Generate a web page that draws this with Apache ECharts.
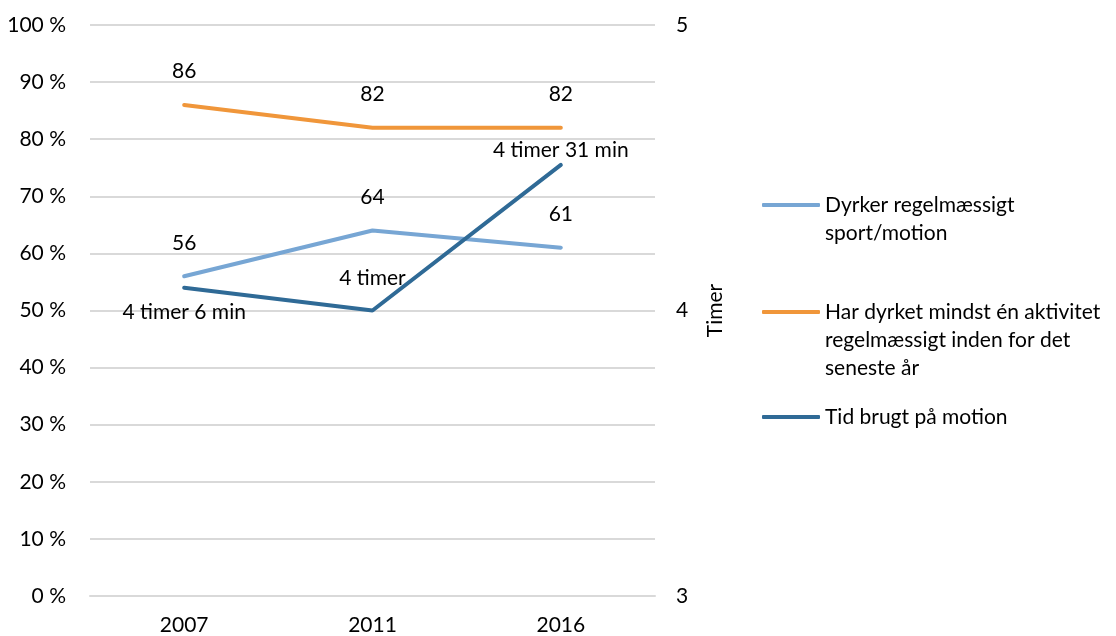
<!DOCTYPE html>
<html><head><meta charset="utf-8">
<script src="https://cdn.jsdelivr.net/npm/echarts@6/dist/echarts.min.js"></script>
<style>html,body{margin:0;padding:0;background:#fff}#c{width:1116px;height:636px}</style>
</head><body><div id="c"></div>
<script>
const categories = ['2007', '2011', '2016'];
const sportValues = [56, 64, 61];
const activityValues = [86, 82, 82];
const timeValues = [4.08, 4.0, 4.51];
const timeLabels = ['4 timer 6 min', '4 timer', '4 timer 31 min'];
const leftTicks = [0, 10, 20, 30, 40, 50, 60, 70, 80, 90, 100];
const rightTicks = [3, 4, 5];
const seriesNames = ['Dyrker regelmæssigt sport/motion', 'Har dyrket mindst én aktivitet regelmæssigt inden for det seneste år', 'Tid brugt på motion'];
const legendText = {
  'Dyrker regelmæssigt sport/motion': 'Dyrker regelmæssigt\nsport/motion',
  'Har dyrket mindst én aktivitet regelmæssigt inden for det seneste år': 'Har dyrket mindst én aktivitet\nregelmæssigt inden for det\nseneste år',
  'Tid brugt på motion': 'Tid brugt på motion'
};
const colors = ['#77A6D4', '#F0963A', '#2F6A96'];
const FONT = 'Lato';
const FS = 21;
const LH = 28;

const chart = echarts.init(document.getElementById('c'));
function legendFor(i, iconCenter) {
  const name = seriesNames[i];
  const n = legendText[name].split('\n').length;
  const total = 2 * n - 1;
  return {
    data: [{ name: name, itemStyle: { color: colors[i], opacity: 1 } }],
    left: 762, top: iconCenter - total * LH / 2, orient: 'vertical',
    icon: 'roundRect', itemWidth: 58, itemHeight: 4, itemGap: 0, padding: 0,
    itemStyle: { color: colors[i], opacity: 1 },
    formatter: '\n'.repeat(n - 1) + legendText[name],
    textStyle: { fontFamily: FONT, fontSize: FS, color: '#000', lineHeight: LH },
    selectedMode: false
  };
}
const labelBase = { show: true, fontFamily: FONT, fontSize: FS, color: '#000' };
function lineSeries(i, axis, data, label) {
  return {
    name: seriesNames[i], type: 'line', yAxisIndex: axis, data: data,
    symbol: 'circle', symbolSize: 2, showSymbol: true,
    itemStyle: { color: 'rgba(0,0,0,0)' },
    lineStyle: { color: colors[i], width: 4, cap: 'round' },
    emphasis: { disabled: true },
    label: label
  };
}
chart.setOption({
  animation: false,
  textStyle: { fontFamily: FONT },
  grid: { left: 90, right: 461, top: 25, bottom: 38, containLabel: false },
  legend: [legendFor(0, 205), legendFor(1, 312), legendFor(2, 417)],
  xAxis: {
    type: 'category', data: categories, boundaryGap: true,
    axisLine: { show: true, lineStyle: { color: '#D9D9D9', width: 2 } },
    axisTick: { show: false },
    axisLabel: { fontFamily: FONT, fontSize: FS, color: '#000', margin: 19 }
  },
  yAxis: [
    {
      type: 'value', min: leftTicks[0], max: leftTicks[leftTicks.length - 1], interval: 10,
      axisLine: { show: false }, axisTick: { show: false },
      axisLabel: { fontFamily: FONT, fontSize: FS, color: '#000', margin: 24, formatter: v => v + ' %' },
      splitLine: { lineStyle: { color: '#D9D9D9', width: 2 } }
    },
    {
      type: 'value', min: rightTicks[0], max: rightTicks[rightTicks.length - 1], interval: 1,
      position: 'right',
      axisLine: { show: false }, axisTick: { show: false },
      axisLabel: { fontFamily: FONT, fontSize: FS, color: '#000', margin: 21 },
      splitLine: { show: false },
      name: 'Timer', nameLocation: 'middle', nameRotate: 90, nameGap: 50,
      nameTextStyle: { fontFamily: FONT, fontSize: FS, color: '#000' }
    }
  ],
  series: [
    lineSeries(0, 0, sportValues, Object.assign({ position: 'top', distance: 22 }, labelBase)),
    lineSeries(1, 0, activityValues, Object.assign({ position: 'top', distance: 22 }, labelBase)),
    lineSeries(2, 1, timeValues.map((v, i) => ({
        value: v,
        label: i === 0 ? { position: 'bottom', distance: 13 } : (i === 1 ? { position: 'top', distance: 21 } : { position: 'top', distance: 3 })
      })), Object.assign({ formatter: p => timeLabels[p.dataIndex] }, labelBase))
  ]
});
</script></body></html>
